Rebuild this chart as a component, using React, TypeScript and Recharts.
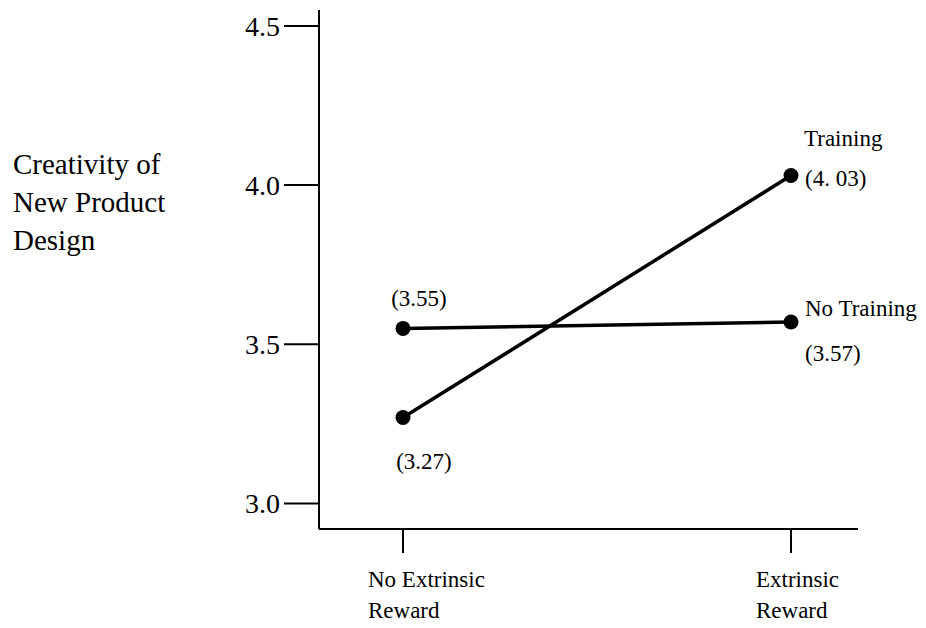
import { LabelList, Line, LineChart, XAxis, YAxis } from 'recharts'

// values as printed next to the points in the figure
const conditions = ['No Extrinsic Reward', 'Extrinsic Reward']
const trainingScores = [3.27, 4.03]
const noTrainingScores = [3.55, 3.57]
const trainingLabels = ['(3.27)', '(4. 03)']
const noTrainingLabels = ['(3.55)', '(3.57)']
const yTicks = [3.0, 3.5, 4.0, 4.5]
const yTitle = ['Creativity of', 'New Product', 'Design']

const data = conditions.map((condition, i) => ({
  condition,
  training: trainingScores[i],
  noTraining: noTrainingScores[i],
}))

const FONT = '"Liberation Serif", "Times New Roman", serif'

function pos(props: any) {
  const x = props.x ?? props.viewBox?.x ?? 0
  const y = props.y ?? props.viewBox?.y ?? 0
  return { x, y }
}

function TrainingLabel(props: any) {
  const { x, y } = pos(props)
  const style = { fontFamily: FONT, fontSize: 23, fill: '#000' }
  if (props.index === 0) {
    return (
      <text x={x + 21} y={y + 51} textAnchor="middle" style={style}>
        {trainingLabels[0]}
      </text>
    )
  }
  return (
    <g>
      <text x={x + 13} y={y - 30} style={style}>Training</text>
      <text x={x + 14} y={y + 10} style={style}>{trainingLabels[1]}</text>
    </g>
  )
}

function NoTrainingLabel(props: any) {
  const { x, y } = pos(props)
  const style = { fontFamily: FONT, fontSize: 23, fill: '#000' }
  if (props.index === 0) {
    return (
      <text x={x + 16} y={y - 22} textAnchor="middle" style={style}>
        {noTrainingLabels[0]}
      </text>
    )
  }
  return (
    <g>
      <text x={x + 14} y={y - 6} style={style}>No Training</text>
      <text x={x + 14} y={y + 39} style={style}>{noTrainingLabels[1]}</text>
    </g>
  )
}

function RewardTick({ x, y, payload }: any) {
  const words = String(payload.value).split(' ')
  const lines = [words.slice(0, -1).join(' '), words[words.length - 1]]
  return (
    <text x={x - 35} y={y} style={{ fontFamily: FONT, fontSize: 23, fill: '#000' }}>
      {lines.map((l, i) => (
        <tspan key={i} x={x - 35} dy={i === 0 ? 34 : 31}>
          {l}
        </tspan>
      ))}
    </text>
  )
}

export default function App() {
  return (
    <div style={{ position: 'relative', width: 926, height: 628, background: '#fff' }}>
      <style>{'body{margin:0}'}</style>
      <LineChart
        width={926}
        height={628}
        data={data}
        margin={{ top: 10, right: 68, bottom: 0, left: 0 }}
      >
        <XAxis
          dataKey="condition"
          height={99}
          padding={{ left: 84, right: 67 }}
          axisLine={{ stroke: '#000', strokeWidth: 2 }}
          tickLine={{ stroke: '#000', strokeWidth: 2 }}
          tickSize={24}
          tickMargin={0}
          tick={<RewardTick />}
          interval={0}
        />
        <YAxis
          type="number"
          domain={[2.92, 4.55]}
          ticks={yTicks}
          allowDataOverflow
          width={319}
          axisLine={{ stroke: '#000', strokeWidth: 2 }}
          tickLine={{ stroke: '#000', strokeWidth: 2 }}
          tickSize={35}
          tickMargin={4}
          tickFormatter={(v: number) => v.toFixed(1)}
          tick={{ fontFamily: FONT, fontSize: 28, fill: '#000' }}
        />
        <Line
          dataKey="noTraining"
          type="linear"
          stroke="#000"
          strokeWidth={3.5}
          dot={{ r: 7.5, fill: '#000', stroke: 'none' }}
          activeDot={false}
          isAnimationActive={false}
        >
          <LabelList dataKey="noTraining" content={<NoTrainingLabel />} />
        </Line>
        <Line
          dataKey="training"
          type="linear"
          stroke="#000"
          strokeWidth={3.5}
          dot={{ r: 7.5, fill: '#000', stroke: 'none' }}
          activeDot={false}
          isAnimationActive={false}
        >
          <LabelList dataKey="training" content={<TrainingLabel />} />
        </Line>
      </LineChart>
      <svg
        width={926}
        height={628}
        style={{ position: 'absolute', left: 0, top: 0, pointerEvents: 'none' }}
      >
        {yTitle.map((t, i) => (
          <text key={t} x={13} y={174 + i * 38} style={{ fontFamily: FONT, fontSize: 29, fill: '#000' }}>
            {t}
          </text>
        ))}
      </svg>
    </div>
  )
}
